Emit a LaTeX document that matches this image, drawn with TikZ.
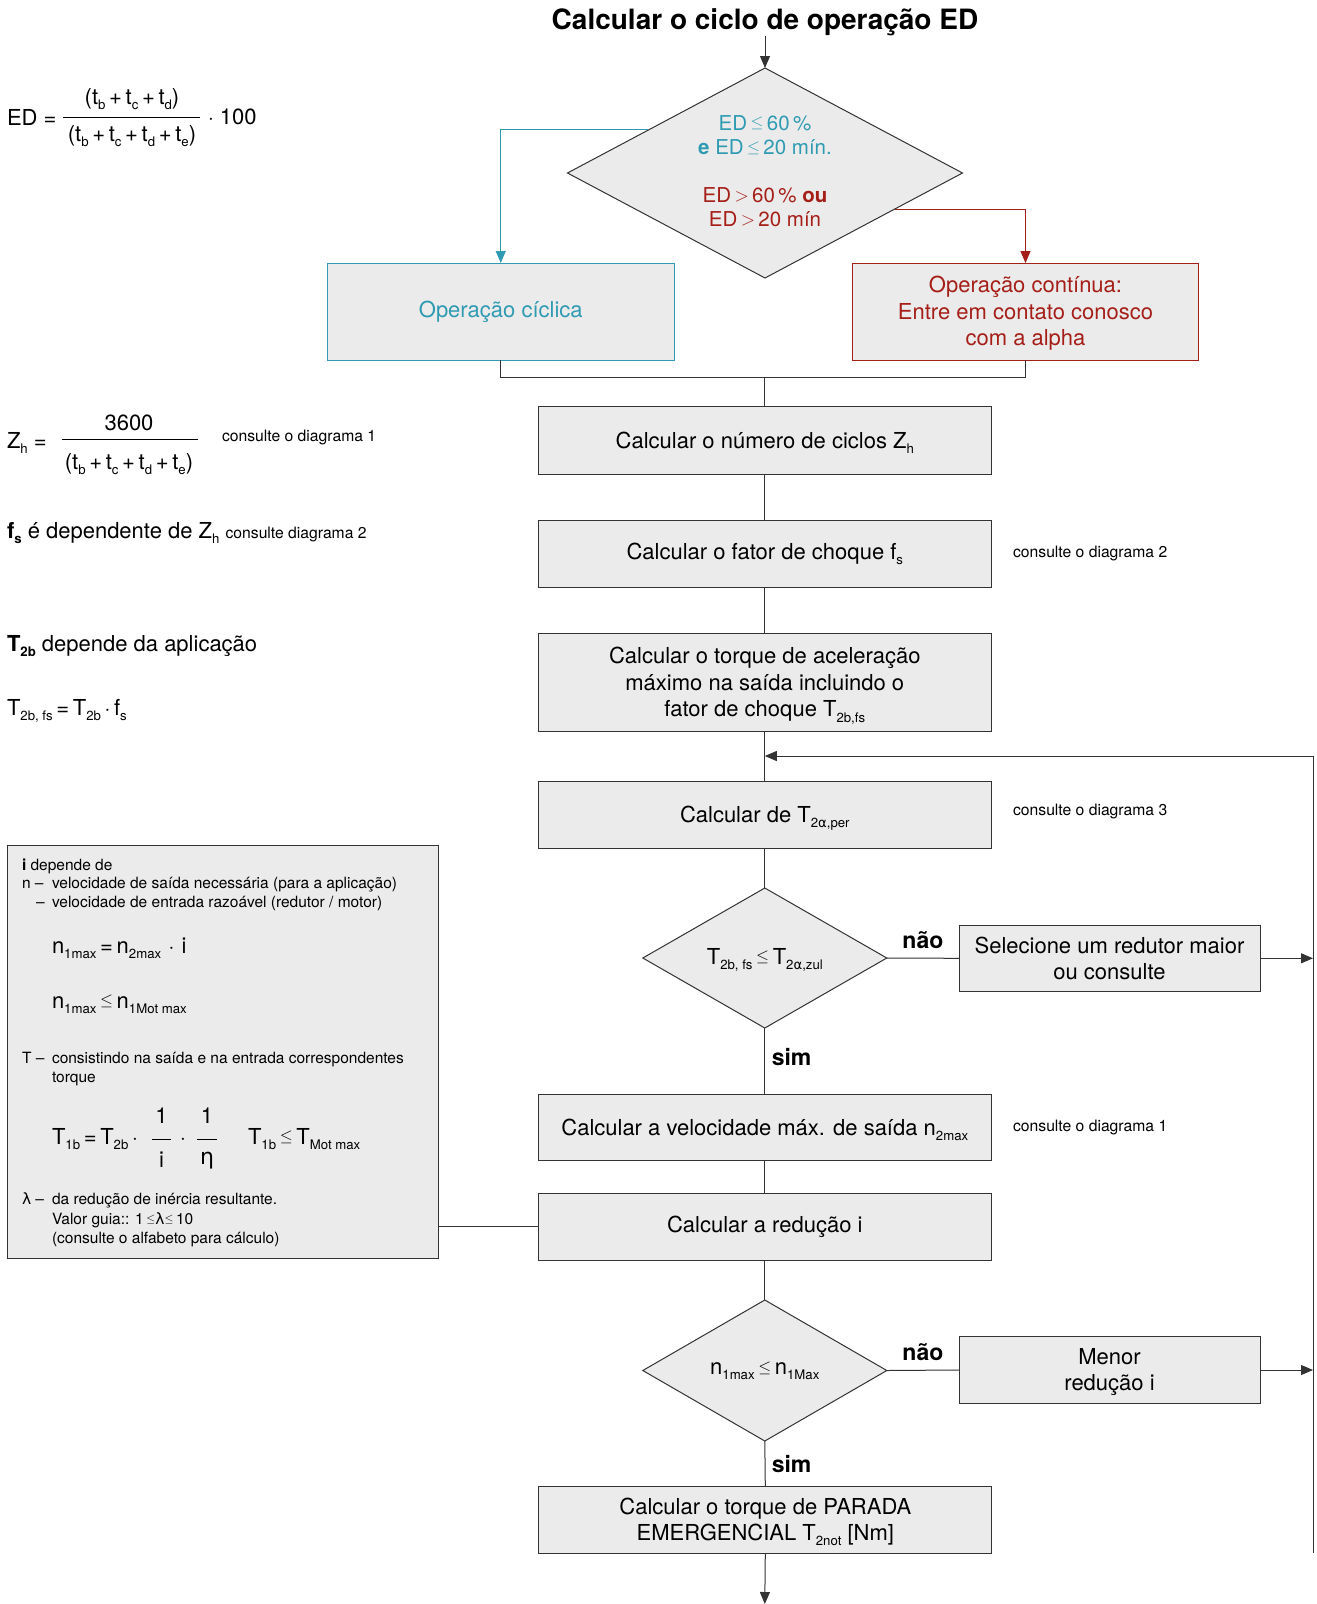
\documentclass[tikz,border=0pt]{standalone}
\usepackage{fontspec}
\setmainfont{TeX Gyre Heros}
\newfontfamily\greekf{DejaVu Sans}
\usepackage{graphicx}
\usetikzlibrary{shapes.geometric,arrows.meta,calc}

\definecolor{boxgray}{HTML}{EBEBEB}
\definecolor{cyc}{HTML}{2E9BB3}
\definecolor{cont}{HTML}{A51E17}
\definecolor{edge}{HTML}{333333}

% small lowered index text (no effect on line height)
\newcommand\lo[1]{\raisebox{-0.45ex}[0pt][0pt]{\scalebox{0.6}{#1}}}
\newcommand\fsz[2]{\fontsize{#1}{#2}\selectfont}
\newcommand\leqs{\raisebox{0.11em}{\scalebox{0.8}{$\leq$}}}
\newcommand\gts{\raisebox{0.04em}{\scalebox{0.9}{$>$}}}
\newcommand\glam{{\greekf λ}}
\newcommand\geta{{\greekf η}}
\newcommand\galp{{\greekf α}}
% extra room above the first line of a multi-line box
\newcommand\topstrut{\rule{0pt}{0.93em}}

\begin{document}
\begin{tikzpicture}[x=1pt,y=-1pt,
  every node/.style={inner sep=0pt, outer sep=0pt},
  stepbox/.style={draw=edge, fill=boxgray, line width=1pt, minimum width=453.6pt,
    minimum height=67pt, align=center, font=\fsz{22}{26.5}},
  sidebox/.style={stepbox, minimum width=301pt, minimum height=66.6pt},
  decision/.style={diamond, draw=edge, fill=boxgray, line width=1pt},
  conn/.style={draw=edge, line width=1pt},
  arr/.style={conn, -{Triangle[length=12pt,width=10pt]}},
  note/.style={font=\fsz{15.5}{18}, anchor=base west},
  formula/.style={font=\fsz{22}{25}},
  lbl/.style={font=\fsz{23}{26}\bfseries},
]
\fill[white] (0,0) rectangle (1317,1604);
\useasboundingbox (0,0) rectangle (1317,1604);

% ---------- title and first decision ----------
\node[font=\fsz{28}{33}\bfseries] (title) at (765,22.5) {Calcular o ciclo de operação ED};
\node[decision, minimum width=395pt, minimum height=210pt] (d1) at (765,173) {};
\node[align=center, font=\fsz{20.5}{24.5}, text=cyc] (d1a) at (765,135)
  {ED\,\leqs\,60\,\%\\\textbf{e} ED\,\leqs\,20 mín.};
\node[align=center, font=\fsz{20.5}{24.5}, text=cont] (d1b) at (765,207)
  {ED\,\gts\,60\,\% \textbf{ou}\\ED\,\gts\,20 mín};
\draw[arr] (title.south) -- (d1.north);

% ---------- operating modes ----------
\node[draw=cyc, fill=boxgray, line width=1pt, minimum width=346.5pt, minimum height=97pt,
  text=cyc, font=\fsz{22}{26.6}] (cyc) at (500.75,311.5) {Operação cíclica};
\node[draw=cont, fill=boxgray, line width=1pt, minimum width=346.5pt, minimum height=97pt,
  text=cont, align=center, font=\fsz{22}{26.6}] (cont) at (1025.5,311.5)
  {\topstrut Operação contínua:\\Entre em contato conosco\\com a alpha};
\draw[arr, draw=cyc] ($(d1.west)!0.41!(d1.north)$) -| (cyc.north);
\draw[arr, draw=cont] ($(d1.east)!0.343!(d1.south)$) -| (cont.north);

% ---------- main chain ----------
\node[stepbox, minimum height=68pt] (zh) at (764.8,440) {Calcular o número de ciclos Z\lo{h}};
\node[stepbox] (fs) at (764.8,553.7) {Calcular o fator de choque f\lo{s}};
\node[stepbox, minimum height=98pt] (tq) at (764.8,682.6)
  {\topstrut Calcular o torque de aceleração\\máximo na saída incluindo o\\fator de choque T\lo{2b,fs}};
\node[stepbox] (ta) at (764.8,814.5) {Calcular de T\lo{2\galp,per}};
\node[decision, minimum width=244pt, minimum height=140pt] (d2) at (764.8,958) {};
\node[font=\fsz{22}{25}] (d2t) at (764.8,956) {T\lo{2b, fs}\,\leqs\,T\lo{2\galp,zul}};
\node[sidebox] (sel) at (1109.5,958.3) {Selecione um redutor maior\\ou consulte};
\node[stepbox, minimum height=66pt] (n2) at (764.8,1127) {Calcular a velocidade máx. de saída n\lo{2max}};
\node[stepbox] (red) at (764.8,1226.5) {Calcular a redução i};
\node[decision, minimum width=244pt, minimum height=141pt] (d3) at (764.8,1370.5) {};
\node[font=\fsz{22}{25}] (d3t) at (764.8,1368) {n\lo{1max}\,\leqs\,n\lo{1Max}};
\node[sidebox, minimum height=67pt] (men) at (1109.5,1370) {\topstrut Menor\\redução i};
\node[stepbox, minimum width=453pt] (stop) at (765.3,1519.5)
  {\topstrut Calcular o torque de PARADA\\EMERGENCIAL T\lo{2not} [Nm]};

\coordinate (j) at (764.8,377.5);
\draw[conn] (cyc.south) |- (j) -| (cont.south);
\draw[conn] (j) -- (zh.north);
\draw[conn] (zh.south) -- (fs.north);
\draw[conn] (fs.south) -- (tq.north);
\draw[conn] (tq.south) -- (ta.north);
\draw[conn] (ta.south) -- (d2.north);
\draw[conn] (d2.south) -- (n2.north);
\draw[conn] (n2.south) -- (red.north);
\draw[conn] (red.south) -- (d3.north);
\draw[conn] (d3.south) -- (stop.north);
\coordinate (end) at (764.8,1604);
\draw[arr] (stop.south) -- (end);

\draw[conn] (d2.east) -- (sel.west);
\draw[conn] (d3.east) -- (men.west);
\node[lbl, anchor=base] (no1) at ($(d2.east)!0.5!(sel.west)+(0,-10)$) {não};
\node[lbl, anchor=base] (no2) at ($(d3.east)!0.5!(men.west)+(0,-10)$) {não};
\node[lbl, anchor=base west] (yes1) at ($(d2.south)+(7,37)$) {sim};
\node[lbl, anchor=base west] (yes2) at ($(d3.south)+(7,31)$) {sim};

% ---------- return path ----------
\coordinate (fb) at (764.8,756);
\coordinate (rt) at (1313,756);
\coordinate (rb) at (1313,1553);
\draw[arr] (rb) -- (rt) -- (fb);
\draw[arr] (sel.east) -- (sel.east -| rt);
\draw[arr] (men.east) -- (men.east -| rt);

% ---------- references to diagrams ----------
\node[font=\fsz{15.7}{18}, anchor=west] (c2) at ($(fs.east)+(21.5,0)$) {consulte o diagrama 2};
\node[font=\fsz{15.7}{18}, anchor=west] (c3) at ($(ta.east)+(21.5,-3)$) {consulte o diagrama 3};
\node[font=\fsz{15.7}{18}, anchor=west] (c1) at ($(n2.east)+(21.5,0)$) {consulte o diagrama 1};

% ---------- formulas on the left ----------
\node[formula, anchor=west] (edl) at (7,117) {ED =};
\node[formula] (ednum) at (132,99) {(t\lo{b}\,+\,t\lo{c}\,+\,t\lo{d})};
\node[formula] (edden) at (132,136) {(t\lo{b}\,+\,t\lo{c}\,+\,t\lo{d}\,+\,t\lo{e})};
\draw[line width=0.8pt] (63,117.3) -- (200,117.3);
\node[formula, anchor=west] (edf) at (208,116.7) {$\cdot$ 100};

\node[formula, anchor=west] (zhl) at (7,440) {Z\lo{h} =};
\node[formula] (zhnum) at (129,423) {3600};
\draw[line width=0.8pt] (62,439) -- (198,439);
\node[formula] (zhden) at (129,464) {(t\lo{b}\,+\,t\lo{c}\,+\,t\lo{d}\,+\,t\lo{e})};
\node[font=\fsz{15.7}{18}, anchor=west] (zhc) at (222,437) {consulte o diagrama 1};

\node[formula, anchor=west] (fsl) at (7,533)
  {\textbf{f}\lo{\textbf{s}} é dependente de Z\lo{h} {\fsz{15.7}{18}consulte diagrama 2}};
\node[formula, anchor=west] (t2b) at (7,646) {\textbf{T}\lo{\textbf{2b}} depende da aplicação};
\node[formula, anchor=west] (t2bfs) at (7,707) {T\lo{2b, fs}\,=\,T\lo{2b}\,$\cdot$\,f\lo{s}};

% ---------- ratio box ----------
\node[draw=edge, fill=boxgray, line width=1pt, minimum width=431pt, minimum height=413pt] (lb) at (222.5,1051.5) {};
\draw[conn] (lb.east |- red.west) -- (red.west);

\node[note] (i0) at (22,870) {\textbf{i} depende de};
\node[note] (i1a) at (22,888) {n –};
\node[note] (i1) at (52,888) {velocidade de saída necessária (para a aplicação)};
\node[note] (i2a) at (36,907) {–};
\node[note] (i2) at (52,907) {velocidade de entrada razoável (redutor / motor)};
\node[formula, anchor=base west] (i3) at (52,953) {n\lo{1max}\,=\,n\lo{2max}\,\,$\cdot$\,\,i};
\node[formula, anchor=base west] (i4) at (52,1008) {n\lo{1max}\,\leqs\,n\lo{1Mot max}};
\node[note] (i5a) at (22,1063) {T –};
\node[note] (i5) at (52,1063) {consistindo na saída e na entrada correspondentes};
\node[note] (i6) at (52,1082) {torque};
\node[formula, anchor=base west] (i7) at (52,1144) {T\lo{1b}\,=\,T\lo{2b}\,$\cdot$};
\node[formula, anchor=base] (f1n) at (161.5,1123) {1};
\draw[line width=0.7pt] (152,1139) -- (171,1139);
\node[formula, anchor=base] (f1d) at (161.5,1167) {i};
\node[formula, anchor=base] (dot2) at (183,1144) {$\cdot$};
\node[formula, anchor=base] (f2n) at (207,1123) {1};
\draw[line width=0.7pt] (197,1139) -- (217,1139);
\node[formula, anchor=base] (f2d) at (207,1164) {\geta};
\node[formula, anchor=base west] (i8) at (248,1144) {T\lo{1b}\,\leqs\,T\lo{Mot max}};
\node[note] (i9a) at (22,1204) {\glam\ –};
\node[note] (i9) at (52,1204) {da redução de inércia resultante.};
\node[note] (i10) at (52,1224) {Valor guia:: 1\,\leqs\glam\leqs\,10};
\node[note] (i11) at (52,1243) {(consulte o alfabeto para cálculo)};
\end{tikzpicture}
\end{document}
